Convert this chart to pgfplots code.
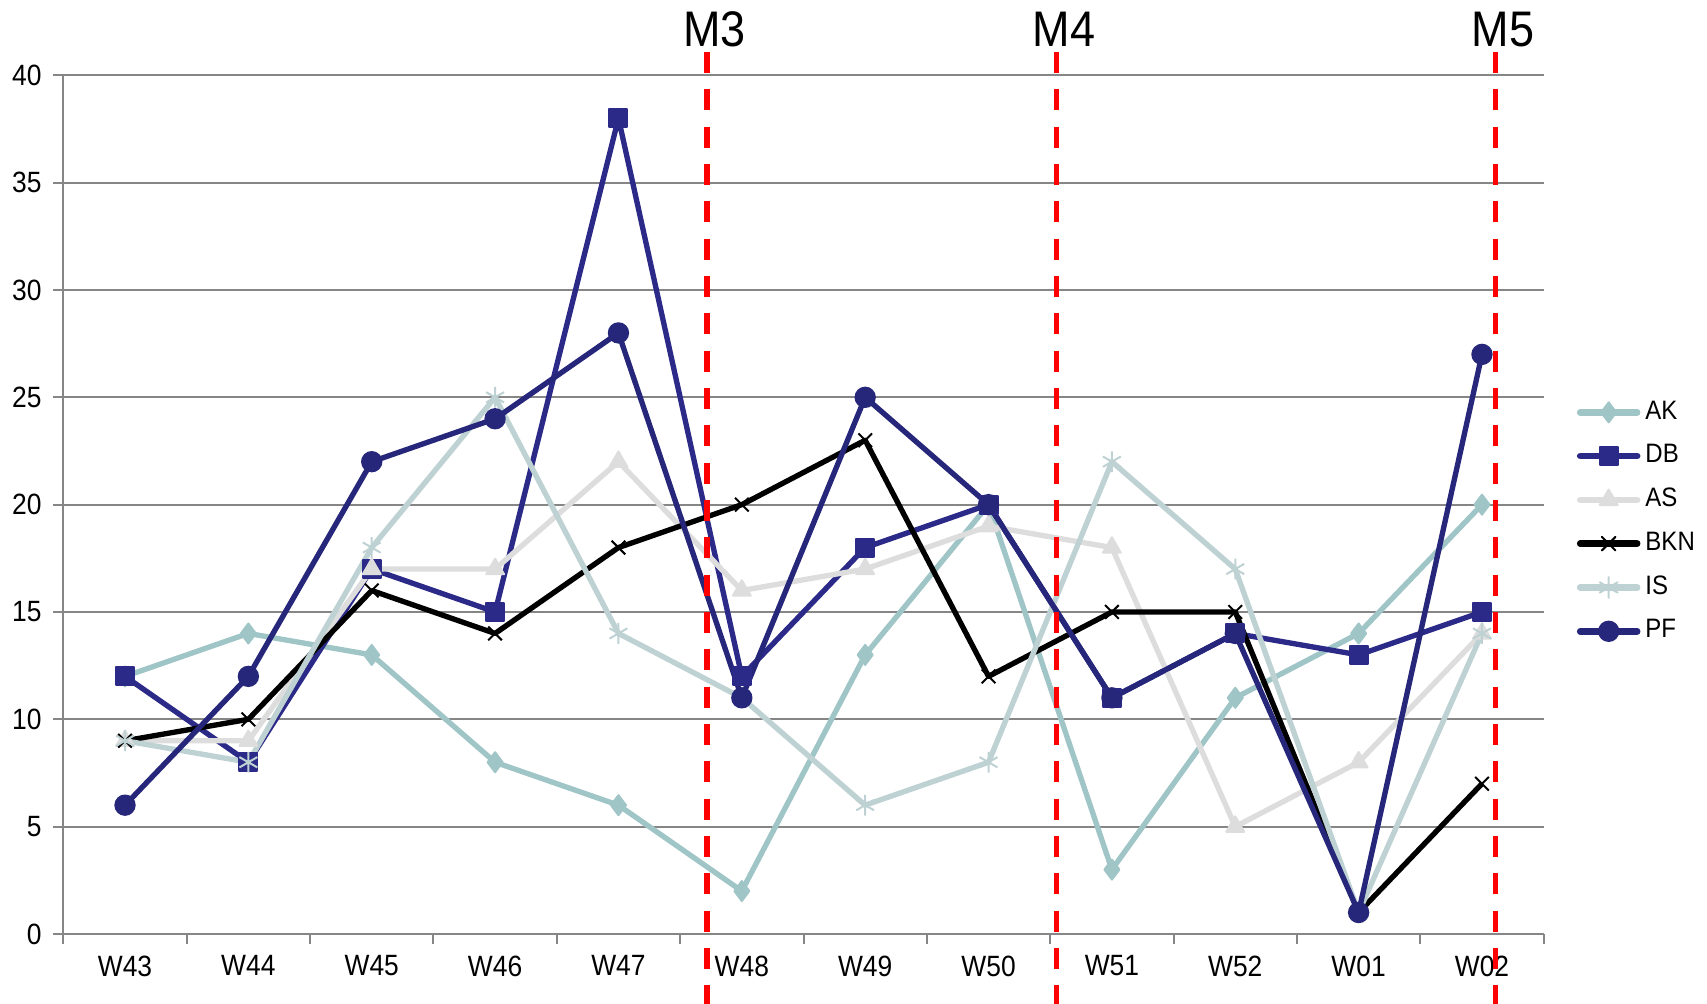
\documentclass[border=0pt]{standalone}
\usepackage{fontspec}
\setmainfont{Liberation Sans}[FakeStretch=0.9]
\usepackage{pgfplots}
\pgfplotsset{compat=1.18}

\definecolor{akc}{RGB}{160,197,199}
\definecolor{dbc}{RGB}{44,42,136}
\definecolor{asc}{RGB}{221,221,221}
\definecolor{isc}{RGB}{190,209,211}
\definecolor{pfc}{RGB}{38,38,122}
\definecolor{gridc}{RGB}{134,134,134}
\definecolor{mred}{RGB}{255,0,0}

\begin{document}
\begin{tikzpicture}
\begin{axis}[
    name=ax,
    scale only axis,
    width=444.1pt, height=257.6pt,
    xmin=-0.5, xmax=11.5, ymin=0, ymax=40,
    axis x line*=bottom, axis y line*=left,
    axis line style={draw=gridc, line width=0.6pt},
    xtick={0,...,11},
    xticklabels={W43,W44,W45,W46,W47,W48,W49,W50,W51,W52,W01,W02},
    minor xtick={-0.5,0.5,...,11.5},
    ytick={0,5,...,40},
    tick align=outside,
    major tick length=3pt, minor tick length=3pt,
    tick style={gridc, line width=0.6pt},
    major x tick style={draw=none},
    ymajorgrids, grid style={gridc, line width=0.6pt},
    /pgf/number format/assume math mode=true,
    ticklabel style={font=\fontsize{8.8}{10}\selectfont},
    clip=false,
    every axis plot/.append style={line width=1.6pt, line join=round},
    legend style={draw=none, fill=none, at={(1.022,0.48)}, anchor=west,
        inner sep=0pt, row sep=2.1pt, font=\fontsize{8}{10}\selectfont,
        nodes={inner xsep=1.5pt},
        cells={anchor=west}},
    legend image code/.code={\draw[line cap=round, line width=2pt, mark repeat=2, mark phase=2] plot coordinates {(0cm,0cm) (0.3cm,0cm) (0.6cm,0cm)};},
]
\addplot[color=akc, mark=diamond*, mark size=3pt, mark options={fill=akc, line width=0.6pt}] coordinates {
 (0,12) (1,14) (2,13) (3,8) (4,6) (5,2) (6,13) (7,20) (8,3) (9,11) (10,14) (11,20)};
\addlegendentry{AK}
\addplot[color=dbc, mark=square*, mark size=2.7pt, mark options={fill=dbc, line width=0.6pt}] coordinates {
 (0,12) (1,8) (2,17) (3,15) (4,38) (5,12) (6,18) (7,20) (8,11) (9,14) (10,13) (11,15)};
\addlegendentry{DB}
\addplot[color=asc, mark=triangle*, mark size=3.1pt, mark options={fill=asc, line width=0.6pt}] coordinates {
 (0,9) (1,9) (2,17) (3,17) (4,22) (5,16) (6,17) (7,19) (8,18) (9,5) (10,8) (11,14)};
\addlegendentry{AS}
\addplot[color=black, mark=x, mark size=2.9pt, mark options={line width=0.6pt}] coordinates {
 (0,9) (1,10) (2,16) (3,14) (4,18) (5,20) (6,23) (7,12) (8,15) (9,15) (10,1) (11,7)};
\addlegendentry{BKN}
\addplot[color=isc, mark=asterisk, mark size=3.1pt, mark options={line width=0.6pt}] coordinates {
 (0,9) (1,8) (2,18) (3,25) (4,14) (5,11) (6,6) (7,8) (8,22) (9,17) (10,1) (11,14)};
\addlegendentry{IS}
\addplot[color=pfc, mark=*, mark size=2.9pt, mark options={fill=pfc, line width=0.6pt}] coordinates {
 (0,6) (1,12) (2,22) (3,24) (4,28) (5,11) (6,25) (7,20) (8,11) (9,14) (10,1) (11,27)};
\addlegendentry{PF}

% milestone markers
\draw[mred, line width=1.6pt, dash pattern=on 6.3pt off 4.9pt] (axis cs:4.717,41.09) -- (axis cs:4.717,-3.4);
\draw[mred, line width=1.6pt, dash pattern=on 6.3pt off 4.9pt] (axis cs:7.55,41.09) -- (axis cs:7.55,-3.4);
\draw[mred, line width=1.6pt, dash pattern=on 6.3pt off 4.9pt] (axis cs:11.107,41.09) -- (axis cs:11.107,-3.4);
\node[anchor=base, font=\fontsize{15}{18}\selectfont] at (axis cs:4.78,41.34) {M3};
\node[anchor=base, font=\fontsize{15}{18}\selectfont] at (axis cs:7.61,41.34) {M4};
\node[anchor=base, font=\fontsize{15}{18}\selectfont] at (axis cs:11.17,41.34) {M5};
\end{axis}
\pgfresetboundingbox
\path[use as bounding box] ([shift={(-19pt,-21pt)}]ax.south west) rectangle ([shift={(49pt,22.6pt)}]ax.north east);
\end{tikzpicture}
\end{document}
